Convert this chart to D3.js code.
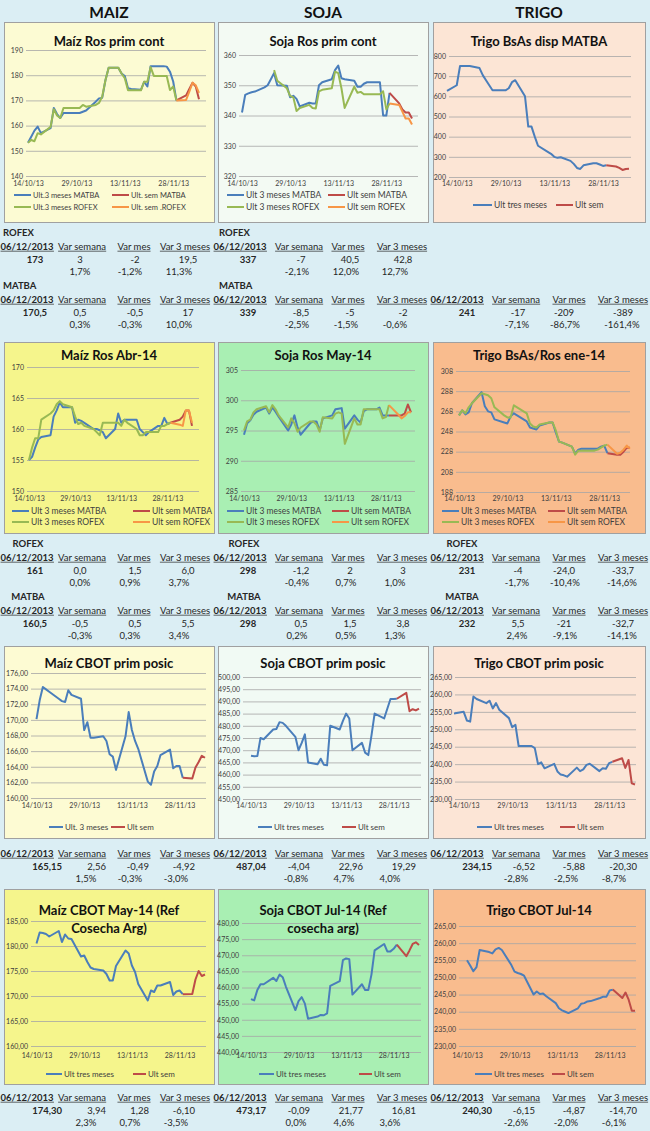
<!DOCTYPE html>
<html>
<head>
<meta charset="utf-8">
<script src="https://cdn.jsdelivr.net/npm/d3@7"></script>
<style>
body { margin: 0; background: #dbeef4; }
svg { display: block; }
</style>
</head>
<body>
<svg width="650" height="1131"></svg>
<script>
// ---- fechas ----
var dias = ["14/10/13","15/10/13","16/10/13","17/10/13","18/10/13","21/10/13","22/10/13","23/10/13","24/10/13","25/10/13",
  "28/10/13","29/10/13","30/10/13","31/10/13","01/11/13","04/11/13","05/11/13","06/11/13","07/11/13","08/11/13",
  "11/11/13","12/11/13","13/11/13","14/11/13","15/11/13","18/11/13","19/11/13","20/11/13","21/11/13","22/11/13",
  "25/11/13","26/11/13","27/11/13","28/11/13","29/11/13"];
var diasDesde11 = ["11/10/13"].concat(dias);
var semana = ["29/11/13","02/12/13","03/12/13","04/12/13","05/12/13","06/12/13"];
var marcasX = ["14/10/13","29/10/13","13/11/13","28/11/13"];

// ---- series ----
var maizRosMatba = [153.2,155.6,158,159.6,157,159,167,164.6,163,165,165,165,165,165.5,166,169.5,170.8,171,178,183,183,180.7,179.7,174.8,174.5,174.2,177.4,175.5,183.6,183.6,183.6,183.4,181.4,177.5,170];
var maizRosRofex = [153.2,154.3,153.8,157,156.5,159.5,166.5,164,163,167,167,167,167,168.2,167.5,168.2,169,171.5,178,183,183,180.7,178.8,174,174,174,177.4,177.4,183.2,179.7,179.7,179.7,174.1,175.5,170];
var maizRosMatbaSem = [170,172,174.5,177,175.5,170.5];
var maizRosRofexSem = [170,170.2,173.5,177,176,173];

var sojaRosMatba = [341,346.8,347.3,347.7,347.9,349.3,350,352,354,350,349.8,346,346.5,345.5,343,344.2,344,344,350,351,352,355,356.5,352.3,352,351.5,349.5,349.5,350.5,351,351,351,340,340,347.5];
var sojaRosRofex = [null,null,null,null,null,null,null,null,355,351.5,349,346.5,346,341.5,342.5,343.5,342.5,342.3,348,348.5,349,354.5,354,349,342.5,349.5,347.5,347.8,347,347,347,347,348,342,344];
var sojaRosMatbaSem = [347.5,344,342,341,341,339];
var sojaRosRofexSem = [344,343.5,341.3,339,339,337];

var trigoDisp = [627,655,750,750,750,750,740,705,680,655,630,630,630,640,670,680,600,450,450,400,355,325,315,300,295,298,280,265,245,240,258,268,268,262,255,258];
var trigoDispSem = [258,252,245,235,240,241];

var maizAbrMatba = [155,155.5,157,158.3,158.7,159,162,163,164.3,163.5,163.5,161,161.5,161.3,161,160,160,159.8,159.5,158.5,160,162.5,161,161.5,161.5,161.5,160,159.5,159,159.5,160.5,160.5,161.8,160.8,161];
var maizAbrRofex = [155,157,158.5,158.5,161.5,162.5,163,164,164.5,164,163.5,162,160.8,161,160.5,160,159.5,159,161,161,161,161,160.5,161.5,161,160,159,159,159.5,159.5,159.5,160.5,160.5,160.8,161];
var maizAbrMatbaSem = [161,161.5,162,163,163,160.5];
var maizAbrRofexSem = [161,160.7,160.5,163,163,161];

var sojaMayMatba = [294.3,296.2,296.7,297.6,298.1,298.8,297.8,298.8,298.1,297.3,295,296,297.5,295.5,294.3,296.2,296.5,296.5,295,297,297.5,298.5,298.6,298.7,295.3,297.5,296.8,296.3,298.2,298.5,298.5,298.8,297.5,297.5,297.5];
var sojaMayRofex = [295,296.5,296.8,298,298.5,299,298,299.2,298.5,297.5,295.5,297,296.2,294.8,295.5,296.5,296.5,296,294.8,297.2,297,297.8,298,297.8,292.8,297,296,296,298.5,298.5,298.5,298.5,297,297.2,299.2];
var sojaMayMatbaSem = [297.5,297.5,297.5,297.8,299.3,298];
var sojaMayRofexSem = [299.2,297.6,297,297.4,298,298];

var trigoEneMatba = [264,269,265,267,276,287,273,268,267,260,257,256,263,266,264,258,252,251,250,254,257,257,247,238,237,233,226,230,231,231,231,231,233,234,226.5];
var trigoEneRofex = [264,269,266,272,276,286,285,284,281,272,264,262,262,274,272,266,256,253,252,255,257,257,249,238,237,233,225,229,229,229,229,230,232,234,235];
var trigoEneMatbaSem = [226.5,225,225,228,232,232];
var trigoEneRofexSem = [235,226,227,230,234,231];

var maizCbot = [170.1,172.5,174.2,173.9,173.6,172.7,172.4,172.3,173.8,173.2,172.7,168.7,169.7,167.7,167.7,167.9,167.3,165.6,165.3,163.6,167.9,171,168.7,167.3,166.3,162.1,161.7,163.4,164.1,165.5,166.2,163.8,164.1,164.1,162.59];
var maizCbotSem = [162.59,162.5,163.9,164.6,165.4,165.15];

var sojaCbot = [467.7,467.5,467.6,475,474.5,478.5,478.7,481.5,481.2,480,475.5,470,473,476.5,465,464.2,466.5,464,463.8,480,478.5,482,485,483,470,473,469,468,476,485,483,487,491,491,491.08];
var sojaCbotSem = [491.08,493.5,486,486.8,486.3,487.04];

var trigoCbot = [254.5,255,252.5,252.2,259.4,258.7,257.5,258.2,256,257.5,255.6,253.2,250.6,251.3,245.2,245.2,245.2,244.6,240,240.5,238.8,240.1,237.9,237,236.8,236.4,239,238,238.5,239.8,240.1,238,238.8,238.7,240.3,240.67];
var trigoCbotSem = [240.67,241.7,238.9,241.2,234.5,234.15];

var maizMay14 = [180.5,182.7,182.6,182.4,181.9,183,180.8,182.3,181.5,181.4,177.9,178.1,176.8,175.7,175.4,175.1,174.4,173.1,173.1,176,179.1,178.5,176.1,174.8,172.4,169.1,171.1,170.8,172.1,172.1,172.8,170.2,170.9,171.1,170.36];
var maizMay14Sem = [170.36,170.4,173.3,175,174,174.3];

var sojaJul14 = [456.4,456,459.2,461,461,463,462,464,463.2,460.3,453,455.8,457,455,450.3,451,451.5,451.4,452,460.5,462,468.5,469,468.8,457.8,461,459.2,459.2,464,471.5,473.5,471.2,471.2,472,473.26];
var sojaJul14Sem = [473.26,469.7,471.5,473.5,474,473.17];

var trigoJul14 = [255,253.5,251.8,253,258,257.4,257,258.2,258.6,258,253.6,251.7,251.3,251,250.5,245,245.9,245.17,245.3,244.5,242.5,241,240.4,240,239.6,241,242.3,242.5,243,243.1,244,244.4,244.4,246.2,246.45];
var trigoJul14Sem = [246.45,244,245.6,243.5,240.3,240.3];

// ---- tablas ----
var encabezados = ["06/12/2013","Var semana","Var mes","Var 3 meses"];
var maizRosRofexTab = ["173","3","-2","19,5"], maizRosRofexPct = ["1,7%","-1,2%","11,3%"];
var maizRosMatbaTab = ["170,5","0,5","-0,5","17"], maizRosMatbaPct = ["0,3%","-0,3%","10,0%"];
var sojaRosRofexTab = ["337","-7","40,5","42,8"], sojaRosRofexPct = ["-2,1%","12,0%","12,7%"];
var sojaRosMatbaTab = ["339","-8,5","-5","-2"], sojaRosMatbaPct = ["-2,5%","-1,5%","-0,6%"];
var trigoDispTab = ["241","-17","-209","-389"], trigoDispPct = ["-7,1%","-86,7%","-161,4%"];
var maizAbrRofexTab = ["161","0,0","1,5","6,0"], maizAbrRofexPct = ["0,0%","0,9%","3,7%"];
var maizAbrMatbaTab = ["160,5","-0,5","0,5","5,5"], maizAbrMatbaPct = ["-0,3%","0,3%","3,4%"];
var sojaMayRofexTab = ["298","-1,2","2","3"], sojaMayRofexPct = ["-0,4%","0,7%","1,0%"];
var sojaMayMatbaTab = ["298","0,5","1,5","3,8"], sojaMayMatbaPct = ["0,2%","0,5%","1,3%"];
var trigoEneRofexTab = ["231","-4","-24,0","-33,7"], trigoEneRofexPct = ["-1,7%","-10,4%","-14,6%"];
var trigoEneMatbaTab = ["232","5,5","-21","-32,7"], trigoEneMatbaPct = ["2,4%","-9,1%","-14,1%"];
var maizCbotTab = ["165,15","2,56","-0,49","-4,92"], maizCbotPct = ["1,5%","-0,3%","-3,0%"];
var sojaCbotTab = ["487,04","-4,04","22,96","19,29"], sojaCbotPct = ["-0,8%","4,7%","4,0%"];
var trigoCbotTab = ["234,15","-6,52","-5,88","-20,30"], trigoCbotPct = ["-2,8%","-2,5%","-8,7%"];
var maizMay14Tab = ["174,30","3,94","1,28","-6,10"], maizMay14Pct = ["2,3%","0,7%","-3,5%"];
var sojaJul14Tab = ["473,17","-0,09","21,77","16,81"], sojaJul14Pct = ["0,0%","4,6%","3,6%"];
var trigoJul14Tab = ["240,30","-6,15","-4,87","-14,70"], trigoJul14Pct = ["-2,6%","-2,0%","-6,1%"];

var fuente = "Lato,'Liberation Sans',sans-serif";
var azul = "#4a7ebb", rojo = "#be4b48", verde = "#98b954", naranja = "#f79646";
var parse = d3.timeParse("%d/%m/%y");
var fin = parse("06/12/13");
var entero = d3.format("d");
var dec2 = function(d) { return d.toFixed(2).replace(".", ","); };

var svg = d3.select("svg").attr("font-family", fuente);

// titulos de columna
svg.selectAll(".cab").data([["MAIZ",109],["SOJA",323],["TRIGO",539]]).enter().append("text")
    .attr("x", function(d) { return d[1]; })
    .attr("y", 18)
    .attr("text-anchor", "middle")
    .style("font-size", "15.5px").style("font-weight", "bold").attr("fill", "#111")
    .text(function(d) { return d[0]; });

function ley4(x1, x2, y1, y2, t) {
    return [[t[0], azul, x1, y1, 17], [t[1], rojo, x2, y1, 17], [t[2], verde, x1, y2, 17], [t[3], naranja, x2, y2, 17]];
}
var t4 = ["Ult 3 meses MATBA","Ult sem MATBA","Ult 3 meses ROFEX","Ult sem ROFEX"];

var paneles = [
  {caja:[4,22,210,200], fondo:"#fcfbd3", titulo:["Maíz Ros prim cont"], tY:[41], dom:[140,190], paso:10, fmt:entero,
   yR:[176,50], grilla:[26,206], datX:[28,199], inicio:"14/10/13", etqY:184, lf:7.5,
   lineas:[[dias,maizRosMatba,azul],[semana,maizRosMatbaSem,rojo],[dias,maizRosRofex,verde],[semana,maizRosRofexSem,naranja]],
   ley:ley4(14,112,195,207,["Ult.3 meses MATBA","Ult. sem MATBA","Ult.3 meses ROFEX","Ult. sem .ROFEX"])},
  {caja:[218,22,210,200], fondo:"#f3faf3", titulo:["Soja Ros prim cont"], tY:[41], dom:[320,360], paso:10, fmt:entero,
   yR:[176,55], grilla:[239,418], datX:[242,412], inicio:"14/10/13", etqY:184, lf:8.5,
   lineas:[[dias,sojaRosMatba,azul],[semana,sojaRosMatbaSem,rojo],[dias,sojaRosRofex,verde],[semana,sojaRosRofexSem,naranja]],
   ley:ley4(227,328,195,207,t4)},
  {caja:[433,22,212,200], fondo:"#fce5d5", titulo:["Trigo BsAs disp MATBA"], tY:[41], dom:[200,800], paso:100, fmt:entero,
   yR:[177,56], grilla:[449,631], datX:[447,629], inicio:"11/10/13", etqY:184, lf:8.5,
   lineas:[[diasDesde11,trigoDisp,azul],[semana,trigoDispSem,rojo]],
   ley:[["Ult tres meses",azul,473,205,19],["Ult sem",rojo,556,205,17]]},

  {caja:[4,342,210,191], fondo:"#f5f58c", titulo:["Maíz Ros Abr-14"], tY:[355], dom:[150,170], paso:5, fmt:entero,
   yR:[491,367], grilla:[27,199], datX:[29,192], inicio:"14/10/13", etqY:499, lf:8.5,
   lineas:[[dias,maizAbrMatba,azul],[semana,maizAbrMatbaSem,rojo],[dias,maizAbrRofex,verde],[semana,maizAbrRofexSem,naranja]],
   ley:ley4(12,133,511,522,t4)},
  {caja:[218,342,210,191], fondo:"#a9efb3", titulo:["Soja Ros May-14"], tY:[355], dom:[285,305], paso:5, fmt:entero,
   yR:[491,370], grilla:[241,415], datX:[244,411], inicio:"14/10/13", etqY:499, lf:8.5,
   lineas:[[dias,sojaMayMatba,azul],[semana,sojaMayMatbaSem,rojo],[dias,sojaMayRofex,verde],[semana,sojaMayRofexSem,naranja]],
   ley:ley4(227,332,511,522,t4)},
  {caja:[433,342,212,191], fondo:"#f9bc8e", titulo:["Trigo BsAs/Ros ene-14"], tY:[355], dom:[188,308], paso:20, fmt:entero,
   yR:[492,371], grilla:[456,630], datX:[459,630], inicio:"14/10/13", etqY:499, lf:8.5,
   lineas:[[dias,trigoEneMatba,azul],[semana,trigoEneMatbaSem,rojo],[dias,trigoEneRofex,verde],[semana,trigoEneRofexSem,naranja]],
   ley:ley4(442,548,511,522,t4)},

  {caja:[4,646,210,192], fondo:"#fdfbd3", titulo:["Maíz CBOT prim posic"], tY:[663], dom:[160,176], paso:2, fmt:dec2,
   yR:[798,673], grilla:[31,206], datX:[36.5,205], inicio:"14/10/13", etqY:806, lf:8,
   lineas:[[dias,maizCbot,azul],[semana,maizCbotSem,rojo]],
   ley:[["Ult. 3 meses",azul,49,827,14],["Ult sem",rojo,111,827,14]]},
  {caja:[218,646,210,192], fondo:"#f1faf4", titulo:["Soja CBOT prim posic"], tY:[663], dom:[450,500], paso:5, fmt:dec2,
   yR:[799,677], grilla:[243,421], datX:[251,419], inicio:"14/10/13", etqY:806, lf:8,
   lineas:[[dias,sojaCbot,azul],[semana,sojaCbotSem,rojo]],
   ley:[["Ult tres meses",azul,258,827,14],["Ult sem",rojo,342,827,14]]},
  {caja:[433,646,212,192], fondo:"#fce5d6", titulo:["Trigo CBOT prim posic"], tY:[663], dom:[230,265], paso:5, fmt:dec2,
   yR:[799,677], grilla:[455,636], datX:[454,635], inicio:"11/10/13", etqY:806, lf:8,
   lineas:[[diasDesde11,trigoCbot,azul],[semana,trigoCbotSem,rojo]],
   ley:[["Ult tres meses",azul,477,827,15],["Ult sem",rojo,560,827,15]]},

  {caja:[4,889,210,195], fondo:"#f5f58c", titulo:["Maíz CBOT May-14 (Ref","Cosecha Arg)"], tY:[910,928], dom:[160,185], paso:5, fmt:dec2,
   yR:[1046,921], grilla:[31,206], datX:[36.5,205], inicio:"14/10/13", etqY:1056, lf:8,
   lineas:[[dias,maizMay14,azul],[semana,maizMay14Sem,rojo]],
   ley:[["Ult tres meses",azul,46,1074,16],["Ult sem",rojo,133,1074,13]]},
  {caja:[218,889,210,195], fondo:"#a9efb3", titulo:["Soja CBOT Jul-14 (Ref","cosecha arg)"], tY:[910,928], dom:[440,480], paso:5, fmt:dec2,
   yR:[1052,923], grilla:[242,421], datX:[251,419], inicio:"14/10/13", etqY:1056, lf:8,
   lineas:[[dias,sojaJul14,azul],[semana,sojaJul14Sem,rojo]],
   ley:[["Ult tres meses",azul,259,1074,15],["Ult sem",rojo,359,1074,13]]},
  {caja:[433,889,212,195], fondo:"#f9bc8e", titulo:["Trigo CBOT Jul-14"], tY:[910], dom:[230,265], paso:5, fmt:dec2,
   yR:[1046,926], grilla:[459,636], datX:[467,635], inicio:"14/10/13", etqY:1056, lf:8,
   lineas:[[dias,trigoJul14,azul],[semana,trigoJul14Sem,rojo]],
   ley:[["Ult tres meses",azul,475,1074,17],["Ult sem",rojo,552,1074,13]]}
];

function puntos(fechas, valores) {
    return valores.map(function(v, i) { return {f: parse(fechas[i]), v: v}; });
}

paneles.forEach(function(p) {
    svg.append("rect")
        .attr("x", p.caja[0] + 0.5).attr("y", p.caja[1] + 0.5)
        .attr("width", p.caja[2]).attr("height", p.caja[3])
        .attr("fill", p.fondo).attr("stroke", "#a0a0a0");

    var x = d3.scaleTime().domain([parse(p.inicio), fin]).range(p.datX);
    var y = d3.scaleLinear().domain(p.dom).range(p.yR);
    var ticks = d3.range(p.dom[0], p.dom[1] + p.paso / 2, p.paso);

    var ejeY = svg.append("g")
        .attr("transform", "translate(" + p.grilla[0] + ",0)")
        .call(d3.axisLeft(y).tickValues(ticks).tickSize(-(p.grilla[1] - p.grilla[0])).tickPadding(3).tickFormat(p.fmt));
    ejeY.attr("font-family", fuente).attr("font-size", 7);
    ejeY.select(".domain").remove();
    ejeY.selectAll("line").attr("stroke", "#a6a6a6").attr("stroke-width", 0.8);
    ejeY.selectAll("text").attr("fill", "#404040");

    var ejeX = svg.append("g")
        .attr("transform", "translate(0," + (p.etqY - 5) + ")")
        .call(d3.axisBottom(x).tickValues(marcasX.map(parse)).tickSize(0).tickPadding(2).tickFormat(d3.timeFormat("%d/%m/%y")));
    ejeX.attr("font-family", fuente).attr("font-size", 7);
    ejeX.select(".domain").remove();
    ejeX.selectAll("text").attr("fill", "#404040");

    var linea = d3.line()
        .defined(function(d) { return d.v != null; })
        .x(function(d) { return x(d.f); })
        .y(function(d) { return y(d.v); });

    p.lineas.forEach(function(l) {
        svg.append("path")
            .datum(puntos(l[0], l[1]))
            .attr("fill", "none")
            .attr("stroke", l[2])
            .attr("stroke-width", 2)
            .attr("stroke-linejoin", "round")
            .attr("d", linea);
    });

    p.titulo.forEach(function(t, i) {
        svg.append("text")
            .attr("x", p.caja[0] + p.caja[2] / 2)
            .attr("y", p.tY[i] + 5)
            .attr("text-anchor", "middle")
            .style("font-size", "13px").style("font-weight", "bold").attr("fill", "#111")
            .text(t);
    });

    p.ley.forEach(function(e) {
        svg.append("line")
            .attr("x1", e[2]).attr("x2", e[2] + e[4])
            .attr("y1", e[3]).attr("y2", e[3])
            .attr("stroke", e[1]).attr("stroke-width", 2);
        svg.append("text")
            .attr("x", e[2] + e[4] + 2).attr("y", e[3] + p.lf * 0.35)
            .style("font-size", p.lf + "px").attr("fill", "#404040")
            .text(e[0]);
    });
});

// ---- bloques de tabla ----
var colsMaiz = [27,82,134,185], colsSoja = [240,299,348,402], colsTrigo = [457,516,569,623];
var vC = {m:[35,80,135,188], s:[248,301,350,403], t:[467,518,564,623]};
var pC = {m:[80,130,179], s:[297,346,395], t:[517,565,622]};
var vR = {m:[62,106,149,195], s:[266,310,363,416], t:[492,535,585,637]};
var pR = {m:[86,130,176], s:[296,344,390], t:[516,566,614]};

var bloques = [
  {etq:"ROFEX", ex:3, ea:"start", y:246, cols:colsMaiz, vals:maizRosRofexTab, pct:maizRosRofexPct, vx:vC.m, px:pC.m, va:"middle"},
  {etq:"ROFEX", ex:219, ea:"start", y:246, cols:colsSoja, vals:sojaRosRofexTab, pct:sojaRosRofexPct, vx:vC.s, px:pC.s, va:"middle"},
  {etq:"MATBA", ex:3, ea:"start", y:299, cols:colsMaiz, vals:maizRosMatbaTab, pct:maizRosMatbaPct, vx:vC.m, px:pC.m, va:"middle"},
  {etq:"MATBA", ex:219, ea:"start", y:299, cols:colsSoja, vals:sojaRosMatbaTab, pct:sojaRosMatbaPct, vx:vC.s, px:pC.s, va:"middle"},
  {etq:null, y:299, cols:colsTrigo, vals:trigoDispTab, pct:trigoDispPct, vx:vC.t, px:pC.t, va:"middle"},

  {etq:"ROFEX", ex:28, ea:"middle", y:557, cols:colsMaiz, vals:maizAbrRofexTab, pct:maizAbrRofexPct, vx:vC.m, px:pC.m, va:"middle"},
  {etq:"ROFEX", ex:244, ea:"middle", y:557, cols:colsSoja, vals:sojaMayRofexTab, pct:sojaMayRofexPct, vx:vC.s, px:pC.s, va:"middle"},
  {etq:"ROFEX", ex:462, ea:"middle", y:557, cols:colsTrigo, vals:trigoEneRofexTab, pct:trigoEneRofexPct, vx:vC.t, px:pC.t, va:"middle"},
  {etq:"MATBA", ex:28, ea:"middle", y:610, cols:colsMaiz, vals:maizAbrMatbaTab, pct:maizAbrMatbaPct, vx:vC.m, px:pC.m, va:"middle"},
  {etq:"MATBA", ex:244, ea:"middle", y:610, cols:colsSoja, vals:sojaMayMatbaTab, pct:sojaMayMatbaPct, vx:vC.s, px:pC.s, va:"middle"},
  {etq:"MATBA", ex:462, ea:"middle", y:610, cols:colsTrigo, vals:trigoEneMatbaTab, pct:trigoEneMatbaPct, vx:vC.t, px:pC.t, va:"middle"},

  {etq:null, y:853, cols:colsMaiz, vals:maizCbotTab, pct:maizCbotPct, vx:vR.m, px:pR.m, va:"end"},
  {etq:null, y:853, cols:colsSoja, vals:sojaCbotTab, pct:sojaCbotPct, vx:vR.s, px:pR.s, va:"end"},
  {etq:null, y:853, cols:colsTrigo, vals:trigoCbotTab, pct:trigoCbotPct, vx:vR.t, px:pR.t, va:"end"},

  {etq:null, y:1097, cols:colsMaiz, vals:maizMay14Tab, pct:maizMay14Pct, vx:vR.m, px:pR.m, va:"end"},
  {etq:null, y:1097, cols:colsSoja, vals:sojaJul14Tab, pct:sojaJul14Pct, vx:vR.s, px:pR.s, va:"end"},
  {etq:null, y:1097, cols:colsTrigo, vals:trigoJul14Tab, pct:trigoJul14Pct, vx:vR.t, px:pR.t, va:"end"}
];

bloques.forEach(function(b) {
    var g = svg.append("g").attr("font-size", 9.5).attr("fill", "#262626");
    if (b.etq) {
        g.append("text").attr("x", b.ex).attr("y", b.y - 14 + 3.5)
            .attr("text-anchor", b.ea).style("font-weight", "bold").text(b.etq);
    }
    encabezados.forEach(function(t, i) {
        var tx = g.append("text").attr("x", b.cols[i]).attr("y", b.y + 3.5)
            .attr("text-anchor", "middle").style("font-weight", i == 0 ? "bold" : "normal").text(t);
        var bb = tx.node().getBBox();
        g.append("line").attr("x1", bb.x).attr("x2", bb.x + bb.width)
            .attr("y1", b.y + 5.2).attr("y2", b.y + 5.2)
            .attr("stroke", "#262626").attr("stroke-width", 0.7);
    });
    b.vals.forEach(function(t, i) {
        g.append("text").attr("x", b.vx[i]).attr("y", b.y + 13.5 + 3.5)
            .attr("text-anchor", i == 0 ? (b.va == "end" ? "end" : "middle") : b.va)
            .style("font-weight", i == 0 ? "bold" : "normal").text(t);
    });
    b.pct.forEach(function(t, i) {
        g.append("text").attr("x", b.px[i]).attr("y", b.y + 25.5 + 3.5)
            .attr("text-anchor", "middle").text(t);
    });
});
</script>
</body>
</html>
